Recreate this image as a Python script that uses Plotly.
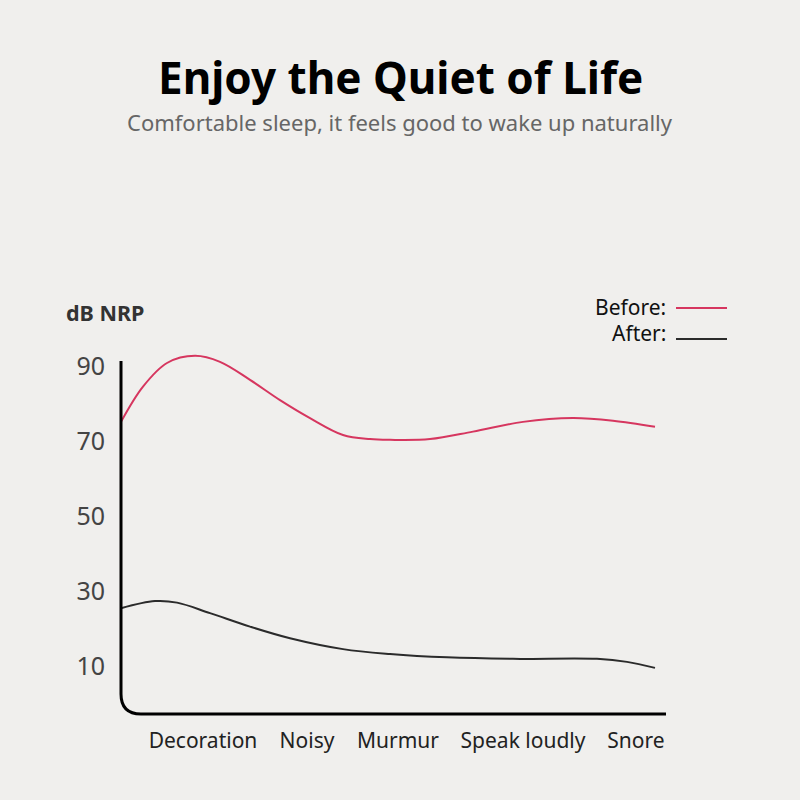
import plotly.graph_objects as go

# ---------------- data ----------------
categories = ["Decoration", "Noisy", "Murmur", "Speak loudly", "Snore"]
cat_pos = [82, 186, 277, 402, 515]          # position of each category along the x scale
y_ticks = [10, 30, 50, 70, 90]

before_x = [0, 22, 46, 74, 99, 129, 159, 189, 222, 249, 269, 309, 352, 402, 452, 492, 534]
before_y = [75.1, 84.5, 90.8, 92.7, 91.1, 86.3, 80.9, 76.1, 71.6, 70.5, 70.3, 70.5, 72.5, 75.1, 76.1, 75.4, 73.8]

after_x = [0, 34, 56, 89, 129, 169, 222, 269, 326, 392, 476, 506, 534]
after_y = [25.4, 27.3, 26.9, 24.1, 20.5, 17.4, 14.5, 13.2, 12.3, 11.9, 11.9, 11.1, 9.5]

title = "Enjoy the Quiet of Life"
subtitle = "Comfortable sleep, it feels good to wake up naturally"
y_title = "dB NRP"
series_names = ["Before:", "After:"]
colors = ["#d6365f", "#2b2b2b"]

# ---------------- layout geometry ----------------
W, H = 800, 800
L, R, T, B = 116, 134, 340, 80
plot_w = W - L - R
plot_h = H - T - B
x_range = [-5, 545]
y_range = [-4.4, -4.4 + plot_h / 3.75]


def px(x):
    return (x - L) / plot_w


def py(y):
    return (H - B - y) / plot_h


bg = "#f0efed"
font_main = "Noto Sans"

fig = go.Figure()
fig.add_trace(go.Scatter(x=before_x, y=before_y, mode="lines", name=series_names[0],
                         line=dict(color=colors[0], width=2, shape="spline", smoothing=1.0),
                         hoverinfo="skip"))
fig.add_trace(go.Scatter(x=after_x, y=after_y, mode="lines", name=series_names[1],
                         line=dict(color=colors[1], width=2, shape="spline", smoothing=1.0),
                         hoverinfo="skip"))

# axis line with rounded corner
y_bottom = -2.8
y_top = 91.3
r_x, r_y = 20, 20 / 3.75
fig.add_shape(type="path", xref="x", yref="y",
              path=f"M 0,{y_top} L 0,{y_bottom + r_y} Q 0,{y_bottom} {r_x},{y_bottom} L 545,{y_bottom}",
              line=dict(color="#000000", width=3), layer="above")

annotations = [
    dict(text=f"<b>{title}</b>", xref="paper", yref="paper", x=px(400), y=py(77),
         xanchor="center", yanchor="middle", showarrow=False,
         font=dict(family=font_main, size=44, color="#000000")),
    dict(text=subtitle, xref="paper", yref="paper", x=px(400), y=py(122),
         xanchor="center", yanchor="middle", showarrow=False,
         font=dict(family=font_main, size=22, color="#666666")),
    dict(text=f"<b>{y_title}</b>", xref="paper", yref="paper", x=px(64), y=py(313),
         xanchor="left", yanchor="middle", showarrow=False,
         font=dict(family=font_main, size=21.5, color="#333333")),
    dict(text=series_names[0], xref="paper", yref="paper", x=px(668), y=py(307),
         xanchor="right", yanchor="middle", showarrow=False,
         font=dict(family=font_main, size=21, color="#111111")),
    dict(text=series_names[1], xref="paper", yref="paper", x=px(668), y=py(333),
         xanchor="right", yanchor="middle", showarrow=False,
         font=dict(family=font_main, size=21, color="#111111")),
]
for i, yy in enumerate([308, 339]):
    fig.add_shape(type="line", xref="paper", yref="paper",
                  x0=px(676), x1=px(727), y0=py(yy), y1=py(yy),
                  line=dict(color=colors[i], width=2))

fig.update_layout(
    width=W, height=H,
    margin=dict(l=L, r=R, t=T, b=B),
    paper_bgcolor=bg, plot_bgcolor=bg,
    showlegend=False,
    annotations=annotations,
    xaxis=dict(range=x_range, tickvals=cat_pos, ticktext=categories, showgrid=False,
               zeroline=False, showline=False, ticks="", ticklabelstandoff=6,
               tickfont=dict(family=font_main, size=21, color="#222222"), fixedrange=True),
    yaxis=dict(range=y_range, tickvals=y_ticks, showgrid=False, zeroline=False,
               showline=False, ticks="", ticklabelstandoff=10,
               tickfont=dict(family=font_main, size=25, color="#444444"), fixedrange=True),
)

fig.write_html(
    "out.html",
    config={"displayModeBar": False},
    post_script=f"document.body.style.margin='0';document.body.style.overflow='hidden';"
                f"document.body.style.background='{bg}';",
)
